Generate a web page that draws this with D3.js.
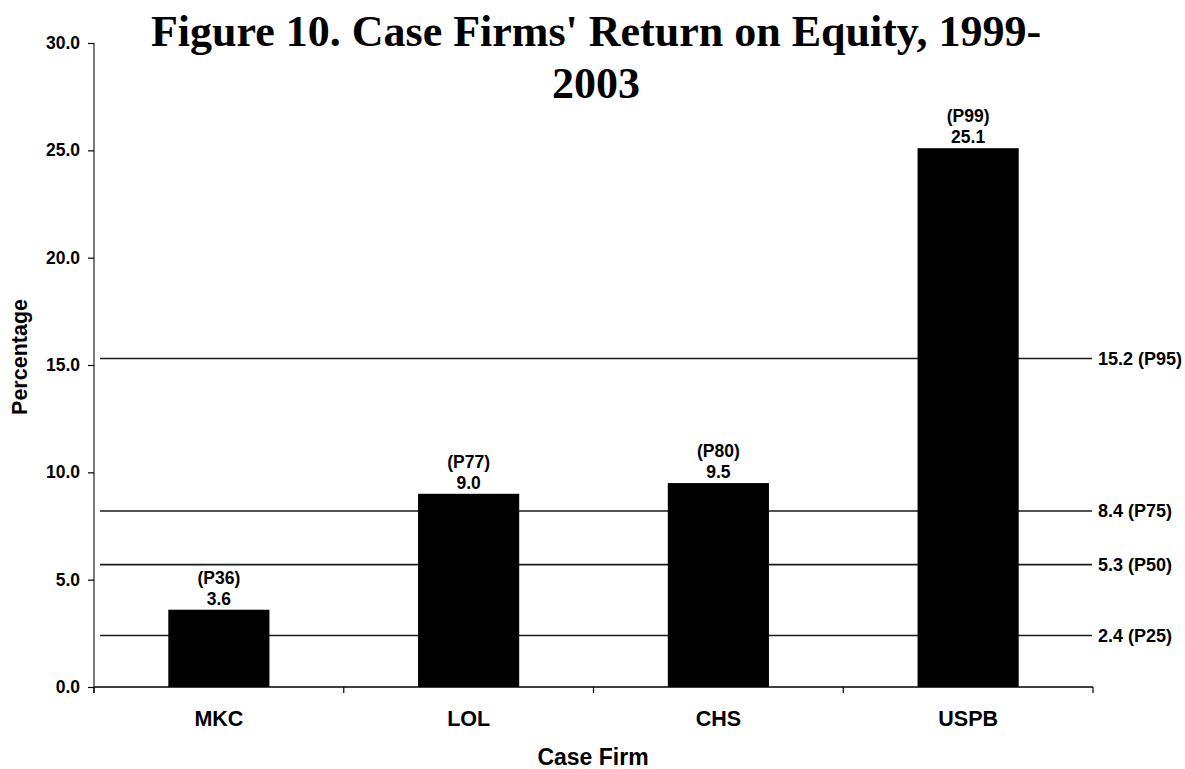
<!DOCTYPE html>
<html>
<head>
<meta charset="utf-8">
<script src="https://cdn.jsdelivr.net/npm/d3@7"></script>
<style>
	body { margin: 0; background: #fff; }
	svg { display: block; }
	.sans { font-family: 'Liberation Sans', Arial, sans-serif; font-weight: bold; fill: #000; }
</style>
</head>
<body>
<svg id="chart" width="1185" height="769"></svg>

<script>
	// data
	const firms = [ 'MKC', 'LOL', 'CHS', 'USPB' ];
	const roeValues = [ 3.6, 9.0, 9.5, 25.1 ];
	const percentileRanks = [ '(P36)', '(P77)', '(P80)', '(P99)' ];
	const yTicks = [ 0, 5, 10, 15, 20, 25, 30 ];
	// benchmark lines: level where drawn, and their labels
	const refValues = [ 15.3, 8.2, 5.7, 2.4 ];
	const refLabels = [ '15.2 (P95)', '8.4 (P75)', '5.3 (P50)', '2.4 (P25)' ];

	( function( d3 ) {
		let svg = d3.select( '#chart' ),
			left = 94, right = 1093, top = 43, bottom = 687;

		let x = d3.scaleBand().domain( firms ).range( [ left, right ] ).padding( 0 ),
			y = d3.scaleLinear().domain( [ 0, 30 ] ).range( [ bottom, top ] ),
			barW = x.step() * 0.405;

		// title
		let title = svg.append( 'text' )
			.attr( 'x', 596 )
			.attr( 'y', 46 )
			.attr( 'text-anchor', 'middle' )
			.style( 'font-family', "'Liberation Serif', 'Times New Roman', serif" )
			.style( 'font-weight', 'bold' )
			.style( 'font-size', '44px' );
		title.append( 'tspan' ).attr( 'x', 596 ).text( "Figure 10. Case Firms' Return on Equity, 1999-" );
		title.append( 'tspan' ).attr( 'x', 596 ).attr( 'dy', 52 ).text( '2003' );

		// benchmark lines (behind the bars)
		let refGroup = svg.append( 'g' ).attr( 'id', 'refGroup' );
		refGroup.selectAll( 'line' ).data( refValues )
			.enter().append( 'line' )
			.attr( 'x1', left + 6 )
			.attr( 'x2', right - 1 )
			.attr( 'y1', d => y( d ) )
			.attr( 'y2', d => y( d ) )
			.style( 'stroke', '#1a1a1a' )
			.style( 'stroke-width', 1.6 );

		refGroup.selectAll( 'text' ).data( refValues )
			.enter().append( 'text' )
			.attr( 'class', 'sans' )
			.attr( 'x', right + 5 )
			.attr( 'y', d => y( d ) )
			.attr( 'dy', '0.36em' )
			.style( 'font-size', '18px' )
			.text( ( d, i ) => refLabels[ i ] );

		// bars
		let barGroup = svg.append( 'g' ).attr( 'id', 'barGroup' );
		barGroup.selectAll( 'rect' ).data( roeValues )
			.enter().append( 'rect' )
			.attr( 'x', ( d, i ) => x( firms[ i ] ) + x.step() / 2 - barW / 2 )
			.attr( 'y', d => y( d ) )
			.attr( 'width', barW )
			.attr( 'height', d => bottom - y( d ) )
			.style( 'fill', '#000' );

		// value and percentile labels
		barGroup.selectAll( 'text.val' ).data( roeValues )
			.enter().append( 'text' )
			.attr( 'class', 'sans val' )
			.attr( 'x', ( d, i ) => x( firms[ i ] ) + x.step() / 2 )
			.attr( 'y', d => y( d ) - 5 )
			.attr( 'text-anchor', 'middle' )
			.style( 'font-size', '17.5px' )
			.text( d => d3.format( '.1f' )( d ) );

		barGroup.selectAll( 'text.pct' ).data( roeValues )
			.enter().append( 'text' )
			.attr( 'class', 'sans pct' )
			.attr( 'x', ( d, i ) => x( firms[ i ] ) + x.step() / 2 )
			.attr( 'y', d => y( d ) - 26 )
			.attr( 'text-anchor', 'middle' )
			.style( 'font-size', '17.5px' )
			.text( ( d, i ) => percentileRanks[ i ] );

		// y axis
		let yAxis = svg.append( 'g' )
			.attr( 'transform', 'translate(' + left + ',0)' )
			.call( d3.axisLeft( y ).tickValues( yTicks ).tickFormat( d3.format( '.1f' ) ).tickSize( 6 ).tickPadding( 8 ) );
		yAxis.select( '.domain' ).attr( 'd', 'M0,' + top + 'V' + ( bottom + 6 ) ).style( 'stroke', '#333' ).style( 'stroke-width', 1.3 );
		yAxis.selectAll( 'line' ).style( 'stroke', '#000' ).style( 'stroke-width', 1.2 );
		yAxis.selectAll( 'text' ).attr( 'class', 'sans' ).style( 'font-size', '17.5px' );

		// x axis
		let xAxis = svg.append( 'g' )
			.attr( 'transform', 'translate(0,' + bottom + ')' )
			.call( d3.axisBottom( x ).tickSize( 0 ).tickPadding( 24 ) );
		xAxis.select( '.domain' ).attr( 'd', 'M' + left + ',0H' + right ).style( 'stroke', '#000' ).style( 'stroke-width', 1.3 );
		xAxis.selectAll( 'text' ).attr( 'class', 'sans' ).style( 'font-size', '21.5px' );

		// category boundary ticks
		xAxis.selectAll( 'line.bound' ).data( d3.range( firms.length + 1 ) )
			.enter().append( 'line' )
			.attr( 'class', 'bound' )
			.attr( 'x1', i => left + i * x.step() )
			.attr( 'x2', i => left + i * x.step() )
			.attr( 'y1', 0 )
			.attr( 'y2', 6 )
			.style( 'stroke', '#000' )
			.style( 'stroke-width', 1.2 );

		// axis titles
		svg.append( 'text' )
			.attr( 'class', 'sans' )
			.attr( 'x', 593 )
			.attr( 'y', 765 )
			.attr( 'text-anchor', 'middle' )
			.style( 'font-size', '23px' )
			.text( 'Case Firm' );

		svg.append( 'text' )
			.attr( 'class', 'sans' )
			.attr( 'transform', 'translate(27,357) rotate(-90)' )
			.attr( 'text-anchor', 'middle' )
			.style( 'font-size', '21.5px' )
			.text( 'Percentage' );
	} )( d3 );
</script>
</body>
</html>
